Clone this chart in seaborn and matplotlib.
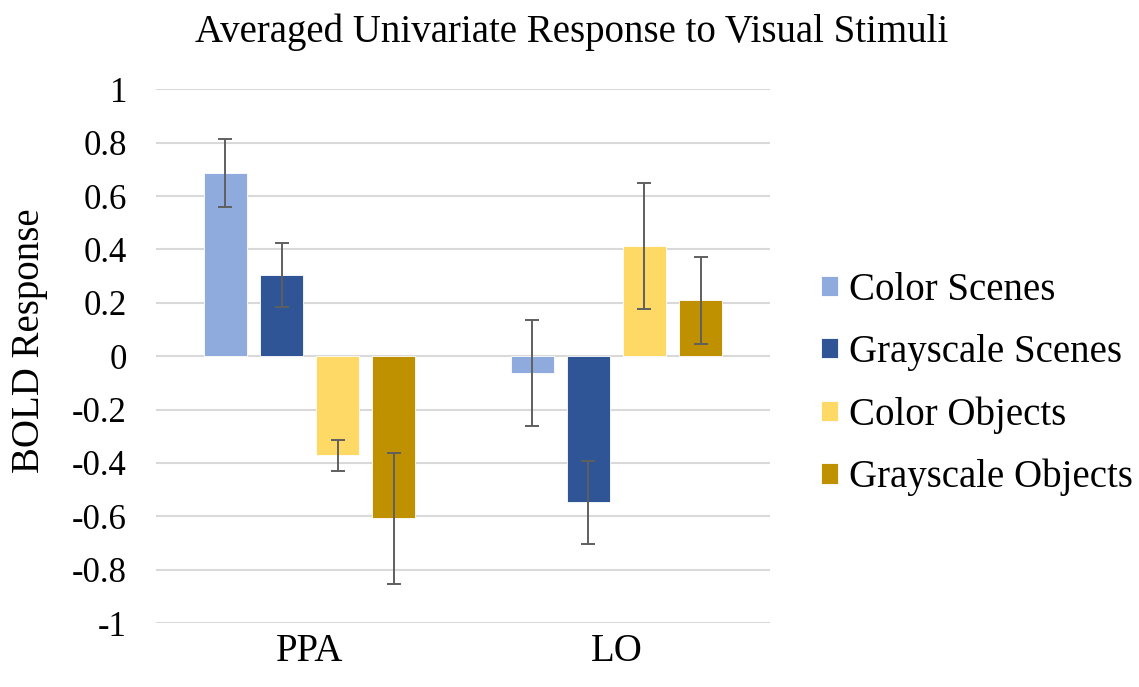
import numpy as np
import pandas as pd
import seaborn as sns
import matplotlib.pyplot as plt

regions = ["PPA", "LO"]
conditions = ["Color Scenes", "Grayscale Scenes", "Color Objects", "Grayscale Objects"]
colors = ["#8FAADC", "#2F5597", "#FFD966", "#BF9000"]

# mean BOLD response per condition, one list per region
ppa_mean = [0.687, 0.304, -0.372, -0.607]
lo_mean = [-0.063, -0.548, 0.412, 0.209]
# error bar half-widths
ppa_err = [0.128, 0.120, 0.057, 0.245]
lo_err = [0.200, 0.157, 0.236, 0.164]

df = pd.DataFrame({
    "Region": np.repeat(regions, len(conditions)),
    "Condition": conditions * len(regions),
    "Response": ppa_mean + lo_mean,
    "Err": ppa_err + lo_err,
})

sns.set_style("white")
plt.rcParams["font.family"] = ["Liberation Serif", "DejaVu Serif"]
plt.rcParams["text.color"] = "black"

fig = plt.figure(figsize=(11.39, 6.87), dpi=100)
ax = fig.add_axes([0.137, 0.093, 0.539, 0.777])

sns.barplot(data=df, x="Region", y="Response", hue="Condition", hue_order=conditions,
            palette=colors, saturation=1, width=0.73, gap=0.23, errorbar=None, ax=ax,
            edgecolor="white", linewidth=0.6, zorder=3)

# error bars at the centre of each drawn bar
for cond, cont in zip(conditions, ax.containers):
    sub = df[df["Condition"] == cond]
    xs = [p.get_x() + p.get_width() / 2 for p in cont.patches]
    ax.errorbar(xs, sub["Response"], yerr=sub["Err"], fmt="none",
                ecolor="#5f5f5f", elinewidth=1.4, capsize=5, capthick=1.4, zorder=4)

ax.set_ylim(-1, 1)
ax.set_xlim(-0.5, 1.5)
ax.set_yticks(np.arange(-1, 1.01, 0.2))
ax.set_yticklabels(["-1", "-0.8", "-0.6", "-0.4", "-0.2", "0", "0.2", "0.4", "0.6", "0.8", "1"])
ax.yaxis.grid(True, color="#d9d9d9", linewidth=1.5, zorder=0)
ax.set_axisbelow(True)
for s in ax.spines.values():
    s.set_visible(False)
ax.tick_params(axis="both", length=0, labelcolor="black")
ax.tick_params(axis="y", labelsize=25, pad=21)
ax.tick_params(axis="x", labelsize=28, pad=7)
ax.set_xlabel("")
ax.set_ylabel("BOLD Response", fontsize=28, color="black")
ax.yaxis.set_label_coords(-0.176, 0.53)
fig.suptitle("Averaged Univariate Response to Visual Stimuli", fontsize=28, x=0.502, y=0.98)

ax.get_legend().remove()
handles, labels = ax.get_legend_handles_labels()
fig.legend(handles[:4], labels[:4], loc="center left", bbox_to_anchor=(0.69, 0.441),
           frameon=False, fontsize=28, handlelength=0.43, handleheight=0.43,
           handletextpad=0.3, labelspacing=0.65)

fig.savefig("out.png", dpi=100)
